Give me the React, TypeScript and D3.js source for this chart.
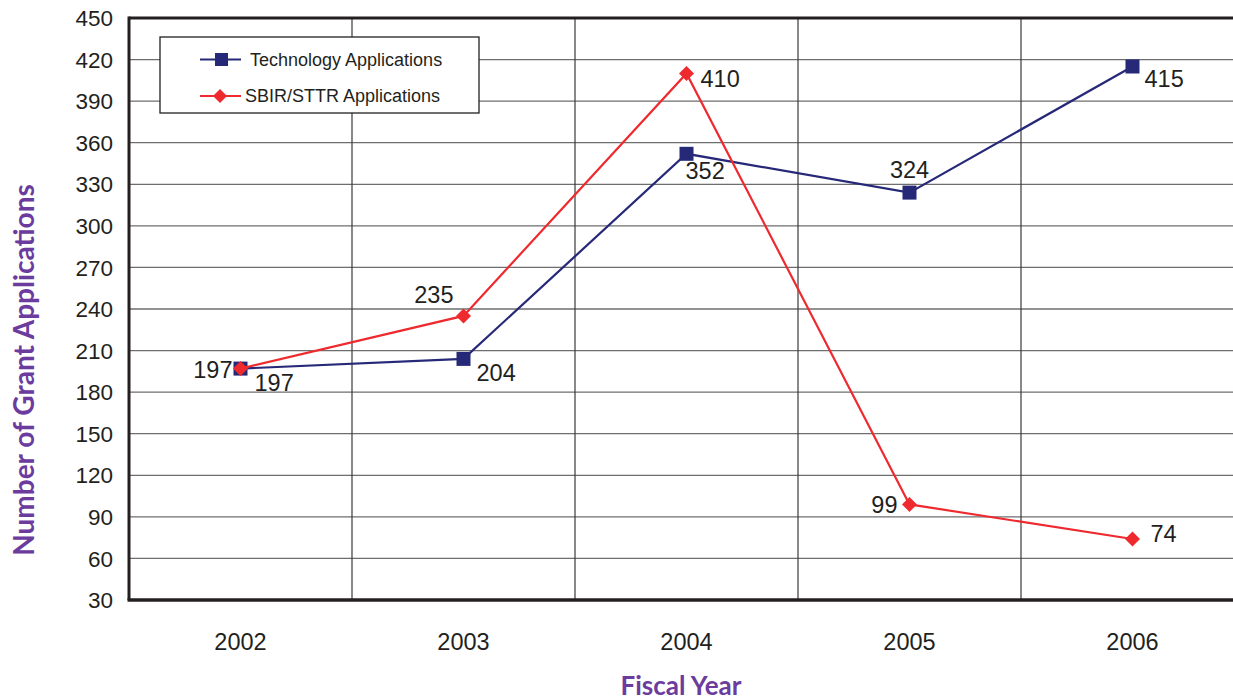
import React from "react";
import * as d3 from "d3";

const years = ["2002", "2003", "2004", "2005", "2006"];
const technologyApps = [197, 204, 352, 324, 415];
const sbirSttrApps = [197, 235, 410, 99, 74];
const yTicks = [30, 60, 90, 120, 150, 180, 210, 240, 270, 300, 330, 360, 390, 420, 450];

// label placement relative to each point: [dx, dy, anchor]
const techLabelPos: [number, number, string][] = [
  [14, 22, "start"],
  [13, 22, "start"],
  [-1, 25, "start"],
  [0, -15, "middle"],
  [12, 20, "start"],
];
const sbirLabelPos: [number, number, string][] = [
  [-8, 9, "end"],
  [-10, -13, "end"],
  [14, 14, "start"],
  [-12, 9, "end"],
  [18, 3, "start"],
];

const W = 1233;
const H = 700;
const left = 129;
const top = 18;
const bottom = 600;
const bandW = 223;

const NAVY = "#262878";
const RED = "#ee2a2f";
const PURPLE = "#6b3c9e";
const FONT = "'Liberation Sans', Arial, sans-serif";

export default function App() {
  const x = d3
    .scaleBand<string>()
    .domain(years)
    .range([left, left + bandW * years.length]);
  const y = d3.scaleLinear().domain([30, 450]).range([bottom, top]);
  const cx = (d: string) => (x(d) as number) + x.bandwidth() / 2;

  const line = d3
    .line<number>()
    .x((_, i) => cx(years[i]))
    .y((v) => y(v));

  const diamond = (px: number, py: number, r: number) =>
    `M${px},${py - r}L${px + r},${py}L${px},${py + r}L${px - r},${py}Z`;

  return (
    <svg
      width={W}
      height={H}
      style={{ position: "absolute", left: 0, top: 0, display: "block", background: "#fff" }}
    >
      {/* horizontal grid */}
      {yTicks.slice(1, -1).map((t) => (
        <line key={t} x1={left} x2={W} y1={y(t)} y2={y(t)} stroke="#6e6e6e" strokeWidth={1.3} />
      ))}
      {/* vertical grid at band boundaries */}
      {years.slice(1).map((yr) => (
        <line
          key={yr}
          x1={x(yr)}
          x2={x(yr)}
          y1={top}
          y2={bottom}
          stroke="#3a3a3a"
          strokeWidth={1.2}
        />
      ))}
      {/* frame */}
      <line x1={left} x2={W} y1={top} y2={top} stroke="#231f20" strokeWidth={3} />
      <line x1={left - 1.5} x2={W} y1={bottom} y2={bottom} stroke="#231f20" strokeWidth={3.5} />
      <line x1={left} x2={left} y1={top - 1.5} y2={bottom} stroke="#231f20" strokeWidth={3} />

      {/* y tick labels */}
      {yTicks.map((t) => (
        <text
          key={t}
          x={113}
          y={y(t)}
          dy="0.36em"
          textAnchor="end"
          fontFamily={FONT}
          fontSize={22.5}
          fill="#231f20"
        >
          {t}
        </text>
      ))}
      {/* x tick labels */}
      {years.map((yr) => (
        <text
          key={yr}
          x={cx(yr)}
          y={650}
          textAnchor="middle"
          fontFamily={FONT}
          fontSize={23.5}
          fill="#231f20"
        >
          {yr}
        </text>
      ))}

      {/* axis titles */}
      <text
        transform="translate(34,370) rotate(-90)"
        textAnchor="middle"
        fontFamily="Lato, 'Open Sans', sans-serif"
        fontWeight="bold"
        fontSize={28}
        fill={PURPLE}
      >
        Number of Grant Applications
      </text>
      <text
        x={681}
        y={695}
        textAnchor="middle"
        fontFamily="Lato, 'Open Sans', sans-serif"
        fontWeight="bold"
        fontSize={26}
        fill={PURPLE}
      >
        Fiscal Year
      </text>

      {/* legend */}
      <rect x={160} y={37} width={319} height={76} fill="#fff" stroke="#231f20" strokeWidth={1.3} />
      <line x1={200} x2={241} y1={59.5} y2={59.5} stroke={NAVY} strokeWidth={2.2} />
      <rect x={215} y={53} width={13} height={13} fill={NAVY} />
      <text x={250} y={66} fontFamily={FONT} fontSize={18} fill="#231f20">
        Technology Applications
      </text>
      <line x1={200} x2={241} y1={96} y2={96} stroke={RED} strokeWidth={2.2} />
      <path d={diamond(220, 96, 7)} fill={RED} />
      <text x={245} y={102} fontFamily={FONT} fontSize={18} fill="#231f20">
        SBIR/STTR Applications
      </text>

      {/* technology series */}
      <path d={line(technologyApps) as string} fill="none" stroke={NAVY} strokeWidth={2.2} />
      {technologyApps.map((v, i) => (
        <rect key={i} x={cx(years[i]) - 7} y={y(v) - 7} width={14} height={14} fill={NAVY} />
      ))}

      {/* SBIR/STTR series */}
      <path d={line(sbirSttrApps) as string} fill="none" stroke={RED} strokeWidth={2.2} />
      {sbirSttrApps.map((v, i) => (
        <path key={i} d={diamond(cx(years[i]), y(v), 7.5)} fill={RED} />
      ))}

      {/* value labels */}
      {technologyApps.map((v, i) => (
        <text
          key={"t" + i}
          x={cx(years[i]) + techLabelPos[i][0]}
          y={y(v) + techLabelPos[i][1]}
          textAnchor={techLabelPos[i][2]}
          fontFamily={FONT}
          fontSize={23.5}
          fill="#231f20"
        >
          {v}
        </text>
      ))}
      {sbirSttrApps.map((v, i) => (
        <text
          key={"s" + i}
          x={cx(years[i]) + sbirLabelPos[i][0]}
          y={y(v) + sbirLabelPos[i][1]}
          textAnchor={sbirLabelPos[i][2]}
          fontFamily={FONT}
          fontSize={23.5}
          fill="#231f20"
        >
          {v}
        </text>
      ))}
    </svg>
  );
}
